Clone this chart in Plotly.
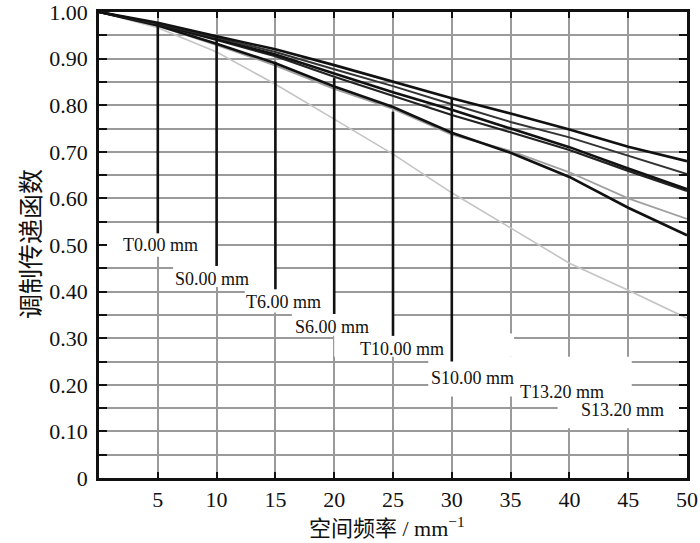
import plotly.graph_objects as go

freq = [0, 5, 10, 15, 20, 25, 30, 35, 40, 45, 50]
mtf_a = [1.0, 0.977, 0.948, 0.920, 0.886, 0.851, 0.815, 0.782, 0.748, 0.711, 0.680]
mtf_b = [1.0, 0.975, 0.945, 0.914, 0.877, 0.841, 0.802, 0.764, 0.731, 0.691, 0.652]
mtf_c = [1.0, 0.974, 0.942, 0.909, 0.868, 0.828, 0.790, 0.750, 0.710, 0.664, 0.620]
mtf_d = [1.0, 0.973, 0.940, 0.905, 0.861, 0.820, 0.779, 0.742, 0.704, 0.659, 0.616]
mtf_e = [1.0, 0.971, 0.932, 0.890, 0.840, 0.796, 0.741, 0.698, 0.646, 0.580, 0.521]
mtf_f = [1.0, 0.970, 0.929, 0.885, 0.835, 0.792, 0.737, 0.702, 0.656, 0.600, 0.556]
mtf_g = [1.0, 0.966, 0.914, 0.845, 0.770, 0.695, 0.612, 0.536, 0.461, 0.403, 0.343]

label_text = ["T0.00 mm", "S0.00 mm", "T6.00 mm", "S6.00 mm",
              "T10.00 mm", "S10.00 mm", "T13.20 mm", "S13.20 mm"]
label_x = [5.2, 9.65, 15.7, 19.85, 25.8, 31.8, 39.4, 44.5]
label_y = [0.500, 0.428, 0.378, 0.324, 0.277, 0.215, 0.185, 0.146]

# leader lines: x position, top (on curve), bottom (label box)
leader_x = [5, 10, 15, 20, 25, 30]
leader_top = [0.977, 0.948, 0.893, 0.858, 0.786, 0.815]
leader_bottom = [0.525, 0.455, 0.405, 0.352, 0.305, 0.250]

# white label boxes (x0, x1, y0, y1)
box_x0 = [0.2, 6.3, 12.4, 16.4, 20.0, 28.0, 35.5, 39.0]
box_x1 = [10.0, 15.0, 20.0, 25.0, 35.3, 38.5, 45.3, 49.8]
box_y0 = [0.475, 0.41, 0.355, 0.305, 0.26, 0.175, 0.165, 0.107]
box_y1 = [0.53, 0.46, 0.41, 0.355, 0.31, 0.26, 0.26, 0.165]

curves = [
    (mtf_g, "#c4c4c4", 1.6),
    (mtf_f, "#a0a0a0", 1.8),
    (mtf_e, "#111111", 2.6),
    (mtf_d, "#222222", 2.2),
    (mtf_c, "#111111", 2.6),
    (mtf_b, "#333333", 2.0),
    (mtf_a, "#111111", 2.6),
]

fig = go.Figure()
for ys, col, w in curves:
    fig.add_trace(go.Scatter(x=freq, y=ys, mode="lines",
                             line=dict(color=col, width=w),
                             hoverinfo="skip", showlegend=False))

for xv, yt, yb in zip(leader_x, leader_top, leader_bottom):
    fig.add_trace(go.Scatter(x=[xv, xv], y=[yt, yb], mode="lines",
                             line=dict(color="#111111", width=2.6),
                             hoverinfo="skip", showlegend=False))

for x0, x1, y0, y1 in zip(box_x0, box_x1, box_y0, box_y1):
    fig.add_shape(type="rect", xref="x", yref="y", x0=x0, x1=x1, y0=y0, y1=y1,
                  fillcolor="white", line=dict(width=0), layer="between")

for t, xv, yv in zip(label_text, label_x, label_y):
    fig.add_annotation(x=xv, y=yv, text=t, showarrow=False, xref="x", yref="y",
                       font=dict(family="Liberation Serif", size=18, color="#111"))

ytv = [round(i * 0.05, 2) for i in range(21)]
ytt = [("0" if v == 0 else f"{v:.2f}") if i % 2 == 0 else "" for i, v in enumerate(ytv)]
xtv = list(range(0, 51, 5))
xtt = ["" if v == 0 else str(v) for v in xtv]

fig.update_layout(
    width=700, height=543,
    margin=dict(l=99, r=13, t=12, b=65),
    paper_bgcolor="white", plot_bgcolor="white",
    font=dict(family="Liberation Serif", size=22, color="#111"),
    xaxis=dict(range=[0, 50], tickvals=xtv, ticktext=xtt, automargin=False,
               ticklabeloverflow="allow",
               showgrid=True, gridcolor="#9a9a9a", gridwidth=1.5,
               showline=True, linecolor="#111", linewidth=2.5, mirror="ticks",
               ticks="inside", ticklen=6, tickwidth=2, tickcolor="#111",
               zeroline=False, title=None),
    yaxis=dict(range=[0, 1], tickvals=ytv, ticktext=ytt, automargin=False,
               ticklabeloverflow="allow",
               showgrid=True, gridcolor="#9a9a9a", gridwidth=1.5,
               showline=True, linecolor="#111", linewidth=2.5, mirror="ticks",
               ticks="inside", ticklen=8, tickwidth=2, tickcolor="#111",
               ticklabelstandoff=4,
               zeroline=False, title=None),
)

fig.add_annotation(text="空间频率 / mm<sup>−1</sup>", xref="paper", yref="paper",
                   x=0.49, y=-0.106, xanchor="center", yanchor="middle", showarrow=False,
                   font=dict(family="Liberation Serif, Noto Sans CJK SC", size=22, color="#111"))
fig.add_annotation(text="调制传递函数", xref="paper", yref="paper",
                   x=-0.12, y=0.503, xanchor="center", yanchor="middle", textangle=-90,
                   showarrow=False,
                   font=dict(family="Noto Sans CJK SC", size=25, color="#111"))

fig.write_html("out.html", config={"displayModeBar": False},
               post_script="document.body.style.margin='0';document.body.style.padding='0';")
